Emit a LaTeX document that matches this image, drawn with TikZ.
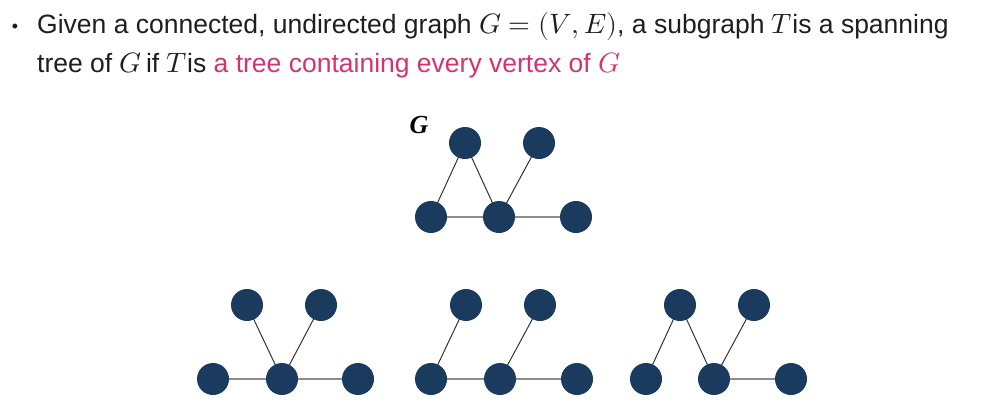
\documentclass[tikz,border=0pt]{standalone}
\usepackage{unicode-math}
\setmainfont{Liberation Sans}
\setmathfont{Latin Modern Math}
\newfontfamily\labelserif{Liberation Serif}
\usetikzlibrary{backgrounds}
\definecolor{nodeblue}{HTML}{1B3B5E}
\definecolor{pinktext}{HTML}{D6336C}
\definecolor{textdark}{HTML}{1E1E1E}
\definecolor{hedge}{HTML}{8C8C8C}
\definecolor{dedge}{HTML}{333333}
\newcommand{\mth}[1]{{\fontsize{28}{28}\selectfont$#1$}}
\tikzset{
  vtx/.style={circle, fill=nodeblue, minimum size=32pt, inner sep=0pt},
  hline/.style={draw=hedge, line width=1.2pt},
  dline/.style={draw=dedge, line width=1pt},
  txt/.style={anchor=base west, inner sep=0pt, text=textdark, font=\fontsize{26.5}{26.5}\selectfont}
}
\begin{document}
\begin{tikzpicture}[x=1pt,y=-1pt]
\useasboundingbox (0,0) rectangle (984,418);
% text
\node[inner sep=0pt, text=textdark, font=\fontsize{18}{18}\selectfont] (bul) at (15,28) {•};
\node[txt] (l1) at (37,33) {Given a connected, undirected graph \mth{G=(V,E)}, a subgraph \mth{T}is a spanning};
\node[txt] (l2) at (37,72) {tree of \mth{G}\,if \mth{T}is \textcolor{pinktext}{a tree containing every vertex of \mth{G}}};
% graph G
\node[font=\labelserif\bfseries\itshape\fontsize{26}{26}\selectfont, inner sep=0pt] (glab) at (419,125) {G};
\node[vtx] (ga) at (465,143) {};
\node[vtx] (gb) at (539,143) {};
\node[vtx] (gc) at (431,217) {};
\node[vtx] (gd) at (499,217) {};
\node[vtx] (ge) at (576,217) {};
% tree 1
\node[vtx] (aa) at (247,305) {};
\node[vtx] (ab) at (321,305) {};
\node[vtx] (ac) at (213,379) {};
\node[vtx] (ad) at (282,379) {};
\node[vtx] (ae) at (358,379) {};
% tree 2
\node[vtx] (ba) at (466,305) {};
\node[vtx] (bb) at (540,305) {};
\node[vtx] (bc) at (431,379) {};
\node[vtx] (bd) at (500,379) {};
\node[vtx] (be) at (577,379) {};
% tree 3
\node[vtx] (ca) at (680,305) {};
\node[vtx] (cb) at (754,305) {};
\node[vtx] (cc) at (646,379) {};
\node[vtx] (cd) at (714,379) {};
\node[vtx] (ce) at (791,379) {};
\begin{scope}[on background layer]
  \draw[dline] (ga.center) -- (gc.center);
  \draw[dline] (ga.center) -- (gd.center);
  \draw[dline] (gb.center) -- (gd.center);
  \draw[hline] (gc.center) -- (gd.center);
  \draw[hline] (gd.center) -- (ge.center);
  \draw[dline] (aa.center) -- (ad.center);
  \draw[dline] (ab.center) -- (ad.center);
  \draw[hline] (ac.center) -- (ad.center);
  \draw[hline] (ad.center) -- (ae.center);
  \draw[dline] (ba.center) -- (bc.center);
  \draw[dline] (bb.center) -- (bd.center);
  \draw[hline] (bc.center) -- (bd.center);
  \draw[hline] (bd.center) -- (be.center);
  \draw[dline] (ca.center) -- (cc.center);
  \draw[dline] (ca.center) -- (cd.center);
  \draw[dline] (cb.center) -- (cd.center);
  \draw[hline] (cd.center) -- (ce.center);
\end{scope}
\end{tikzpicture}
\end{document}
